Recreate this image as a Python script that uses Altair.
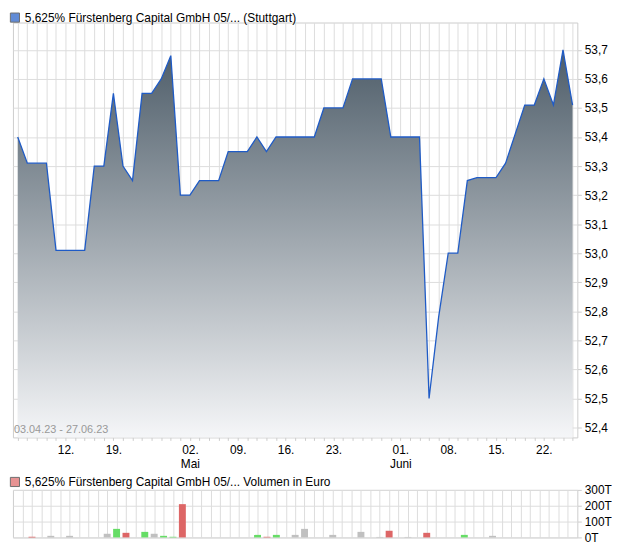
import altair as alt
import pandas as pd

# ---------------- data ----------------
series_name = "5,625% Fürstenberg Capital GmbH 05/... (Stuttgart)"
volume_name = "5,625% Fürstenberg Capital GmbH 05/... Volumen in Euro"
date_range = "03.04.23 - 27.06.23"

# closing prices per trading day (03.04.23 .. 27.06.23)
price = [53.40, 53.31, 53.31, 53.31, 53.01, 53.01, 53.01, 53.01, 53.30, 53.30,
         53.55, 53.30, 53.25, 53.55, 53.55, 53.60, 53.68, 53.20, 53.20, 53.25,
         53.25, 53.25, 53.35, 53.35, 53.35, 53.40, 53.35, 53.40, 53.40, 53.40,
         53.40, 53.40, 53.50, 53.50, 53.50, 53.60, 53.60, 53.60, 53.60, 53.40,
         53.40, 53.40, 53.40, 52.50, 52.78, 53.00, 53.00, 53.25, 53.26, 53.26,
         53.26, 53.31, 53.41, 53.51, 53.51, 53.60, 53.51, 53.70, 53.51]
day_idx = list(range(len(price)))

tick_idx = [5, 10, 18, 23, 28, 33, 40, 45, 50, 55]
tick_day = ["12.", "19.", "02.", "09.", "16.", "23.", "01.", "08.", "15.", "22."]
tick_month = ["", "", "Mai", "", "", "", "Juni", "", "", ""]

y_ticks = [52.4, 52.5, 52.6, 52.7, 52.8, 52.9, 53.0, 53.1, 53.2, 53.3, 53.4, 53.5, 53.6, 53.7]

# volume (thousand euro) per trading day index
vol_idx = [1, 3, 5, 9, 10, 11, 13, 14, 15, 16, 17, 25, 26, 27, 29, 30, 33, 36, 38, 39, 41, 43, 47, 50]
vol_k = [4, 10, 10, 23, 54, 29, 35, 23, 10, 4, 210, 16, 4, 16, 16, 54, 16, 35, 3, 42, 3, 29, 16, 10]
vol_dir = ["down", "flat", "flat", "flat", "up", "down", "up", "flat", "up", "up", "down",
           "up", "down", "up", "flat", "flat", "flat", "flat", "flat", "down", "flat",
           "down", "up", "flat"]
vol_ticks = [0, 100000, 200000, 300000]

# ---------------- layout ----------------
W = 570
H1 = 419
H2 = 48
YMIN, YMAX = 52.366, 53.794
XMIN, XMAX = -0.5, 58.5
FONT = "Liberation Sans"
GRID = "#dddddd"

parts = []
for i, d, m in zip(tick_idx, tick_day, tick_month):
    lab = f"['{d}', '{m}']" if m else f"'{d}'"
    parts.append(f"datum.value == {i} ? {lab}")
x_label_expr = " : ".join(parts) + " : ''"

price_df = pd.DataFrame({"i": day_idx, "p": price, "s": series_name})
xscale = alt.Scale(domain=[XMIN, XMAX], nice=False, zero=False)
yscale = alt.Scale(domain=[YMIN, YMAX], nice=False, zero=False)

x_axis = alt.Axis(values=day_idx, tickCount=len(day_idx) + 5, labelExpr=x_label_expr,
                  grid=True, gridColor=GRID,
                  tickColor="#cccccc", tickSize=3, domain=False, labelOverlap=False,
                  labelFlush=False, labelFontSize=12, labelColor="#000000",
                  labelPadding=4, labelLineHeight=14, title=None, labelFont=FONT)
y_axis = alt.Axis(orient="right", values=y_ticks, tickCount=len(y_ticks) + 5,
                  labelExpr="replace(format(datum.value, '.1f'), '.', ',')",
                  grid=True, gridColor=GRID, tickColor="#cccccc", tickSize=4,
                  domain=False, labelFontSize=12, labelColor="#000000", title=None,
                  labelFont=FONT, labelPadding=3, labelOverlap=False)

gradient = alt.Gradient(
    gradient="linear",
    stops=[alt.GradientStop(color="#4e5d69", offset=0),
           alt.GradientStop(color="#f5f6f8", offset=1)],
    x1=1, x2=1, y1=0, y2=1,
)


def legend_props(dy):
    return dict(title=None, orient="none", legendX=-4, legendY=dy,
                symbolType="square", symbolSize=85,
                symbolStrokeColor="#333333", symbolStrokeWidth=1,
                labelFontSize=12, labelLimit=500, labelColor="#000000",
                labelFont=FONT, padding=0)


base = alt.Chart(price_df)
area = base.mark_area(fill=gradient).encode(
    x=alt.X("i:Q", scale=xscale, axis=x_axis),
    y=alt.Y("p:Q", scale=yscale, axis=y_axis),
    y2=alt.datum(YMIN),
)
line = base.mark_line(color="#1f5bc6", strokeWidth=1.3).encode(x="i:Q", y="p:Q")
leg1 = base.transform_filter("datum.i == 0").mark_point(
    shape="square", filled=True, size=0).encode(
    x="i:Q", y="p:Q",
    fill=alt.Fill("s:N", scale=alt.Scale(domain=[series_name], range=["#1f5bc6"]),
                  legend=alt.Legend(**legend_props(-11))),
)
note = alt.Chart(pd.DataFrame({"t": [date_range]})).mark_text(
    align="left", baseline="middle", fontSize=11, color="#999999", font=FONT
).encode(x=alt.value(1), y=alt.value(H1 - 7), text="t:N")

main = alt.layer(area, line, leg1, note).properties(width=W, height=H1)

vol_df = pd.DataFrame({"i": vol_idx, "v": [k * 1000 for k in vol_k], "d": vol_dir,
                       "n": volume_name})
vbase = alt.Chart(vol_df)
bars = vbase.mark_bar(size=7).encode(
    x=alt.X("i:Q", scale=xscale,
            axis=alt.Axis(values=day_idx, tickCount=len(day_idx) + 5, grid=True,
                          gridColor=GRID, labels=False,
                          ticks=False, domain=False, title=None)),
    y=alt.Y("v:Q", scale=alt.Scale(domain=[0, 300000], nice=False),
            axis=alt.Axis(orient="right", values=vol_ticks, tickCount=10,
                          labelExpr="(datum.value / 1000) + 'T'", grid=True,
                          gridColor=GRID, tickColor="#cccccc", tickSize=4, domain=False,
                          labelFontSize=12, labelColor="#000000", title=None,
                          labelFont=FONT, labelPadding=3, labelOverlap=False)),
    color=alt.Color("d:N", scale=alt.Scale(domain=["up", "down", "flat"],
                                           range=["#66dd66", "#dd6666", "#c0c0c0"]),
                    legend=None),
)
leg2 = vbase.transform_filter("datum.i == 1").mark_point(
    shape="square", filled=True, size=0).encode(
    x="i:Q", y="v:Q",
    fill=alt.Fill("n:N", scale=alt.Scale(domain=[volume_name], range=["#dd6666"]),
                  legend=alt.Legend(**legend_props(-14))),
)
vol = alt.layer(bars, leg2).properties(width=W, height=H2)

chart = alt.vconcat(main, vol, spacing=5).resolve_scale(
    fill="independent", color="independent"
).resolve_legend(fill="independent", color="independent").properties(
    padding={"left": 0, "top": 0, "right": 0, "bottom": 0}
).configure(font=FONT).configure_view(stroke="#cccccc")

chart.save("out.html", embed_options={"renderer": "svg", "actions": False})
